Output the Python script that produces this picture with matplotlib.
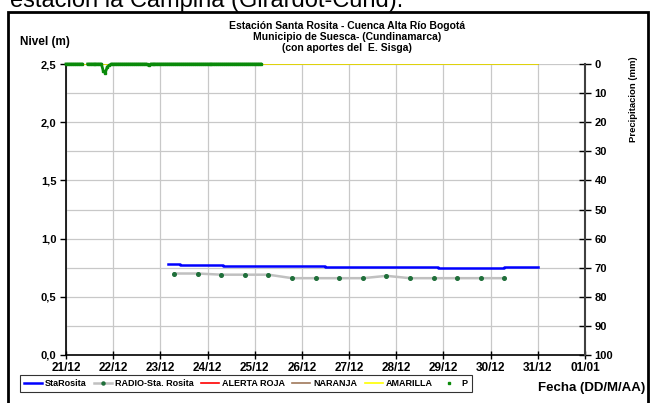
import numpy as np
import pandas as pd
import matplotlib
matplotlib.use("Agg")
import matplotlib.pyplot as plt
import matplotlib.dates as mdates
from matplotlib.lines import Line2D
from matplotlib.patches import Rectangle

plt.rcParams['font.family'] = ['Liberation Sans', 'DejaVu Sans']
plt.rcParams['font.weight'] = 'bold'

nan = np.nan

# Nivel StaRosita (m) - escalones
sta_fechas = ["2011-12-23 04:00", "2011-12-23 10:00", "2011-12-24 08:00",
              "2011-12-26 12:00", "2011-12-28 21:00", "2011-12-30 07:00",
              "2011-12-31 00:00"]
sta_nivel = [0.78, 0.77, 0.762, 0.753, 0.745, 0.758, 0.758]

# RADIO-Sta. Rosita (m), cada 12 horas
radio_fechas = pd.date_range("2011-12-23 07:00", periods=15, freq="12h")
radio_nivel = [0.70, 0.70, 0.69, 0.69, 0.69, 0.66, 0.66, 0.66, 0.66, 0.68,
               0.66, 0.66, 0.66, 0.66, 0.66]

# Umbrales de alerta (m)
alerta_fechas = ["2011-12-21 00:00", "2011-12-31 00:00"]
alerta_roja = [2.5, 2.5]
alerta_naranja = [2.5, 2.5]
alerta_amarilla = [2.5, 2.5]

# Precipitacion horaria (mm)
p_fechas = pd.date_range("2011-12-21 00:00", "2011-12-25 03:00", freq="h")
p_mm = ([0.0] * 9 + [nan, nan] + [0.0] * 8 + [2.5, 3.0, 1.0, 0.5] +
        [0.0] * 19 + [0.5] + [0.0] * 57)
p_mm = p_mm[:len(p_fechas)]

fig = plt.figure(figsize=(6.5, 4.03), dpi=100)
ax = fig.add_axes([66 / 650, 1 - 355 / 403, (585 - 66) / 650, (355 - 64) / 403])
ax2 = ax.twinx()

ax.plot(pd.to_datetime(alerta_fechas), alerta_roja, color="#FF0000", lw=1.2)
ax.plot(pd.to_datetime(alerta_fechas), alerta_naranja, color="#A0785A", lw=1.2)
ax.plot(pd.to_datetime(alerta_fechas), alerta_amarilla, color="#E8E800", lw=1.2)
ax.plot(radio_fechas, radio_nivel, color="#C0C0C0", lw=1.8,
        marker="o", ms=2.6, mfc="#1F6F3A", mec="#1F6F3A")
ax.plot(pd.to_datetime(sta_fechas), sta_nivel, color="#0000FF", lw=1.8,
        drawstyle="steps-post")

ax2.plot(p_fechas, p_mm, color="#0A8A0A", lw=2.0, marker="s", ms=2.0,
         clip_on=False)

x0 = pd.Timestamp("2011-12-21")
x1 = pd.Timestamp("2012-01-01")
ax.set_xlim(x0, x1)
ax.set_ylim(0, 2.5)
ax2.set_ylim(100, 0)

ax.set_yticks(np.arange(0, 2.51, 0.5))
ax.set_yticks(np.arange(0, 2.51, 0.25), minor=True)
ax.set_yticklabels([f"{v:.1f}".replace(".", ",") for v in np.arange(0, 2.51, 0.5)])
ax2.set_yticks(np.arange(0, 101, 10))
ax.xaxis.set_major_locator(mdates.DayLocator())
ax.xaxis.set_major_formatter(mdates.DateFormatter("%d/%m"))

ax.grid(True, which="both", color="#C8C8C8", lw=0.9)
ax.set_axisbelow(True)
ax.tick_params(axis="y", which="minor", length=0)
ax.tick_params(axis="y", which="major", direction="out", length=4, width=1,
               labelsize=8, pad=3)
ax.tick_params(axis="x", direction="inout", length=6, width=1,
               labelsize=8.5, pad=2)
ax2.tick_params(axis="y", direction="inout", length=8, width=1,
                labelsize=8, pad=3)

for s in ["top"]:
    ax.spines[s].set_visible(False)
    ax2.spines[s].set_visible(False)
ax.spines["right"].set_visible(False)
ax2.spines["left"].set_visible(False)
ax2.spines["bottom"].set_visible(False)
ax.spines["left"].set_linewidth(1.2)
ax.spines["bottom"].set_linewidth(1.2)
ax2.spines["right"].set_linewidth(1.5)
ax2.spines["right"].set_color("#404040")

fig.text(347 / 650, 1 - 21 / 403,
         "Estación Santa Rosita - Cuenca Alta Río Bogotá\n"
         "Municipio de Suesca- (Cundinamarca)\n"
         "(con aportes del  E. Sisga)",
         ha="center", va="top", fontsize=7.5, fontweight="bold", linespacing=1.15)
fig.text(20 / 650, 1 - 42 / 403, "Nivel (m)", ha="left", va="center",
         fontsize=8.5, fontweight="bold")
fig.text(634 / 650, 1 - 99 / 403, "Precipitacion (mm)", ha="center",
         va="center", rotation=90, fontsize=6.8, fontweight="bold")
fig.text(645 / 650, 1 - 388 / 403, "Fecha (DD/M/AA)", ha="right",
         va="center", fontsize=9.5, fontweight="bold")
fig.text(10 / 650, 1 - 7.5 / 403, "estación la Campiña (Girardot-Cund).",
         ha="left", va="baseline", fontsize=17, fontweight="normal")

fig.patches.append(Rectangle((8 / 650, -0.05), 640 / 650, 1.05 - 12 / 403,
                             transform=fig.transFigure, fill=False,
                             edgecolor="black", lw=2))

handles = [
    Line2D([], [], color="#0000FF", lw=1.8),
    Line2D([], [], color="#C0C0C0", lw=1.8, marker="o", ms=2.2,
           mfc="#1F6F3A", mec="#1F6F3A"),
    Line2D([], [], color="#FF0000", lw=1.2),
    Line2D([], [], color="#A0785A", lw=1.2),
    Line2D([], [], color="#FFFF00", lw=1.2),
    Line2D([], [], color="#0A8A0A", lw=0, marker="s", ms=2),
]
labels = ["StaRosita", "RADIO-Sta. Rosita", "ALERTA ROJA", "NARANJA",
          "AMARILLA", "P"]
leg = fig.legend(handles, labels, loc="lower left",
                 bbox_to_anchor=(15 / 650, 6 / 403), ncol=6, fontsize=6.5,
                 frameon=True, fancybox=False, edgecolor="black",
                 handlelength=2.0, handletextpad=0.35, columnspacing=0.8,
                 borderpad=0.45)
leg.get_frame().set_linewidth(0.8)

fig.savefig("out.png", dpi=100)
